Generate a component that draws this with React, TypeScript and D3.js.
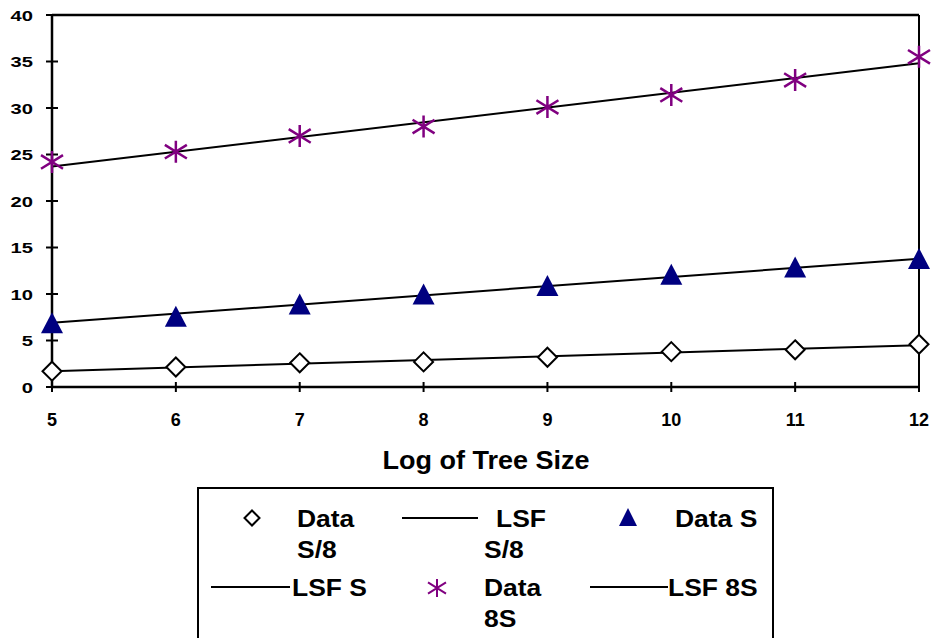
import React from "react";
import * as d3 from "d3";

const xValues = [5, 6, 7, 8, 9, 10, 11, 12];
const dataS8 = [1.7, 2.15, 2.6, 2.7, 3.2, 3.8, 4.0, 4.6];
const dataS = [6.8, 7.5, 8.8, 9.9, 10.8, 12.0, 12.8, 13.7];
const data8S = [24.2, 25.3, 27.0, 28.0, 30.1, 31.4, 33.0, 35.5];
const lsfS8 = [1.7, 4.5];
const lsfS = [6.9, 13.8];
const lsf8S = [23.7, 34.8];
const yTicks = [0, 5, 10, 15, 20, 25, 30, 35, 40];
const xTitle = "Log of Tree Size";

const W = 935, H = 638;
const x = d3.scaleLinear().domain([5, 12]).range([52, 919]);
const y = d3.scaleLinear().domain([0, 40]).range([387, 15]);
const NAVY = "#000080";
const PURPLE = "#800080";
const FONT = "Liberation Sans, Arial, sans-serif";

const diamond = (cx: number, cy: number, r: number) =>
  `M${cx},${cy - r}L${cx + r},${cy}L${cx},${cy + r}L${cx - r},${cy}Z`;
const triangle = (cx: number, cy: number, w: number, h: number) =>
  `M${cx},${cy - h * 0.55}L${cx + w / 2},${cy + h * 0.45}L${cx - w / 2},${cy + h * 0.45}Z`;
const asterisk = (cx: number, cy: number, r: number) => {
  const a = r * 1.0, b = r * 0.62;
  return `M${cx},${cy - r}L${cx},${cy + r}M${cx - a},${cy - b}L${cx + a},${cy + b}M${cx - a},${cy + b}L${cx + a},${cy - b}`;
};

// text horizontally stretched, anchored at (tx, ty)
const SText = ({ tx, ty, sx, anchor, size, children }: any) => (
  <text
    transform={`translate(${tx},${ty}) scale(${sx},1)`}
    textAnchor={anchor || "start"}
    fontFamily={FONT}
    fontWeight="bold"
    fontSize={size}
  >
    {children}
  </text>
);

export default function App() {
  const line = d3.line<number>().x((_, i) => x(i === 0 ? 5 : 12)).y((v) => y(v));
  return (
    <svg width={W} height={H} style={{ position: "absolute", left: 0, top: 0, background: "#fff" }}>
      {/* frame */}
      <line x1={x(5)} x2={x(12)} y1={y(40)} y2={y(40)} stroke="#000" strokeWidth={2.5} />
      <line x1={x(12)} x2={x(12)} y1={y(40)} y2={y(0)} stroke="#000" strokeWidth={2} />
      <line x1={x(5)} x2={x(5)} y1={y(40)} y2={y(0)} stroke="#000" strokeWidth={2.5} />
      <line x1={x(5)} x2={x(12)} y1={y(0)} y2={y(0)} stroke="#000" strokeWidth={2.5} />
      {yTicks.map((t) => (
        <g key={"y" + t}>
          <line x1={x(5) - 6} x2={x(5) + 6} y1={y(t)} y2={y(t)} stroke="#000" strokeWidth={2} />
          <SText tx={33} ty={y(t) + 5.5} sx={1.3} anchor="end" size={15.5}>{t}</SText>
        </g>
      ))}
      {xValues.map((t) => (
        <g key={"x" + t}>
          <line x1={x(t)} x2={x(t)} y1={y(0) - 5} y2={y(0) + 5} stroke="#000" strokeWidth={2} />
          <text x={x(t)} y={426} textAnchor="middle" fontFamily={FONT} fontWeight="bold" fontSize={18}>{t}</text>
        </g>
      ))}
      <SText tx={486} ty={469} sx={1.08} anchor="middle" size={25}>{xTitle}</SText>

      {/* fit lines */}
      {[lsfS8, lsfS, lsf8S].map((d, i) => (
        <path key={"l" + i} d={line(d) || ""} fill="none" stroke="#000" strokeWidth={2} />
      ))}
      {/* markers */}
      {dataS8.map((v, i) => (
        <path key={"d" + i} d={diamond(x(xValues[i]), y(v), 9.5)} fill="#fff" stroke="#000" strokeWidth={2} />
      ))}
      {dataS.map((v, i) => (
        <path key={"t" + i} d={triangle(x(xValues[i]), y(v), 22, 21)} fill={NAVY} />
      ))}
      {data8S.map((v, i) => (
        <path key={"a" + i} d={asterisk(x(xValues[i]), y(v), 11)} fill="none" stroke={PURPLE} strokeWidth={2.5} />
      ))}

      {/* legend */}
      <rect x={198} y={488} width={575} height={160} fill="#fff" stroke="#000" strokeWidth={2} />
      <path d={diamond(252, 518, 7.5)} fill="#fff" stroke="#000" strokeWidth={2} />
      <SText tx={297} ty={527} sx={1.15} size={23}>Data</SText>
      <SText tx={297} ty={558} sx={1.15} size={23}>S/8</SText>
      <line x1={402} x2={478} y1={518} y2={518} stroke="#000" strokeWidth={2} />
      <SText tx={496} ty={527} sx={1.15} size={23}>LSF</SText>
      <SText tx={484} ty={558} sx={1.15} size={23}>S/8</SText>
      <path d={triangle(628, 518, 18, 18)} fill={NAVY} />
      <SText tx={675} ty={527} sx={1.15} size={23}>Data S</SText>
      <line x1={211} x2={290} y1={587} y2={587} stroke="#000" strokeWidth={2} />
      <SText tx={292} ty={596} sx={1.15} size={23}>LSF S</SText>
      <path d={asterisk(437, 588, 9)} fill="none" stroke={PURPLE} strokeWidth={2} />
      <SText tx={484} ty={596} sx={1.15} size={23}>Data</SText>
      <SText tx={484} ty={627} sx={1.15} size={23}>8S</SText>
      <line x1={590} x2={668} y1={587} y2={587} stroke="#000" strokeWidth={2} />
      <SText tx={668} ty={596} sx={1.15} size={23}>LSF 8S</SText>
    </svg>
  );
}
